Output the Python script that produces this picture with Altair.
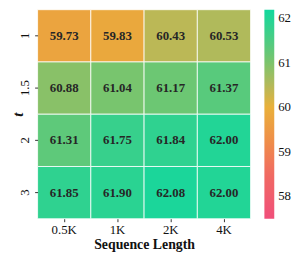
import altair as alt
import pandas as pd

seq_lens = ["0.5K", "1K", "2K", "4K"]
t_vals = ["1", "1.5", "2", "3"]
values = [
    [59.73, 59.83, 60.43, 60.53],
    [60.88, 61.04, 61.17, 61.37],
    [61.31, 61.75, 61.84, 62.00],
    [61.85, 61.90, 62.08, 62.00],
]
cbar_ticks = [58, 59, 60, 61, 62]
color_domain = [57.5, 58.5, 59.2, 60.0, 60.5, 61.0, 61.5, 62.19]
color_range = ["#f04f7a", "#f06a62", "#ef8c4a", "#e9b03a", "#b3b95a",
               "#7cc46c", "#4ccc82", "#12d89e"]

rows = []
for i, t in enumerate(t_vals):
    for j, s in enumerate(seq_lens):
        rows.append({"t": t, "seq": s, "acc": values[i][j]})
df = pd.DataFrame(rows)

FONT = "Liberation Serif"
W, H = 216, 212

base = alt.Chart(df).encode(
    x=alt.X("seq:N", sort=seq_lens, title="Sequence Length",
            axis=alt.Axis(labelAngle=0, labelFontSize=13, titleFontSize=14,
                          titleFontWeight="bold", labelFont=FONT, titleFont=FONT,
                          domain=False, tickSize=3, tickColor="#333",
                          labelColor="#111", titleColor="#111",
                          labelPadding=2, titlePadding=1)),
    y=alt.Y("t:N", sort=t_vals, title="t",
            axis=alt.Axis(labelAngle=270, labelFontSize=13, titleFontSize=15,
                          titleFontStyle="italic", titleFontWeight="bold",
                          labelFont=FONT, titleFont=FONT, domain=False,
                          tickSize=3, tickColor="#333", labelColor="#111",
                          titleColor="#111", labelPadding=3,
                          titleAngle=270, titleX=-27, titleY=H / 2,
                          titleAlign="center", titleBaseline="top")),
)

rect = base.mark_rect(stroke="white", strokeWidth=1, strokeOpacity=0.8).encode(
    color=alt.Color("acc:Q",
                    scale=alt.Scale(domain=color_domain, range=color_range,
                                    interpolate="rgb", clamp=True),
                    legend=alt.Legend(title=None, values=cbar_ticks,
                                      gradientLength=H, gradientThickness=10,
                                      gradientStrokeWidth=0, labelFont=FONT,
                                      labelFontSize=13, labelColor="#111",
                                      offset=14, padding=0, labelOffset=4,
                                      labelOverlap=False))
)

text = base.mark_text(font=FONT, fontSize=13, fontWeight="bold",
                      color="#262626").encode(
    text=alt.Text("acc:Q", format=".2f")
)

chart = (rect + text).properties(
    width=W, height=H,
    autosize=alt.AutoSizeParams(type="none"),
    padding={"left": 30, "top": 0, "right": 42, "bottom": 32},
).configure_view(stroke=None).configure_scale(bandPaddingInner=0)

chart.save("out.html", embed_options={"renderer": "svg", "actions": False})
